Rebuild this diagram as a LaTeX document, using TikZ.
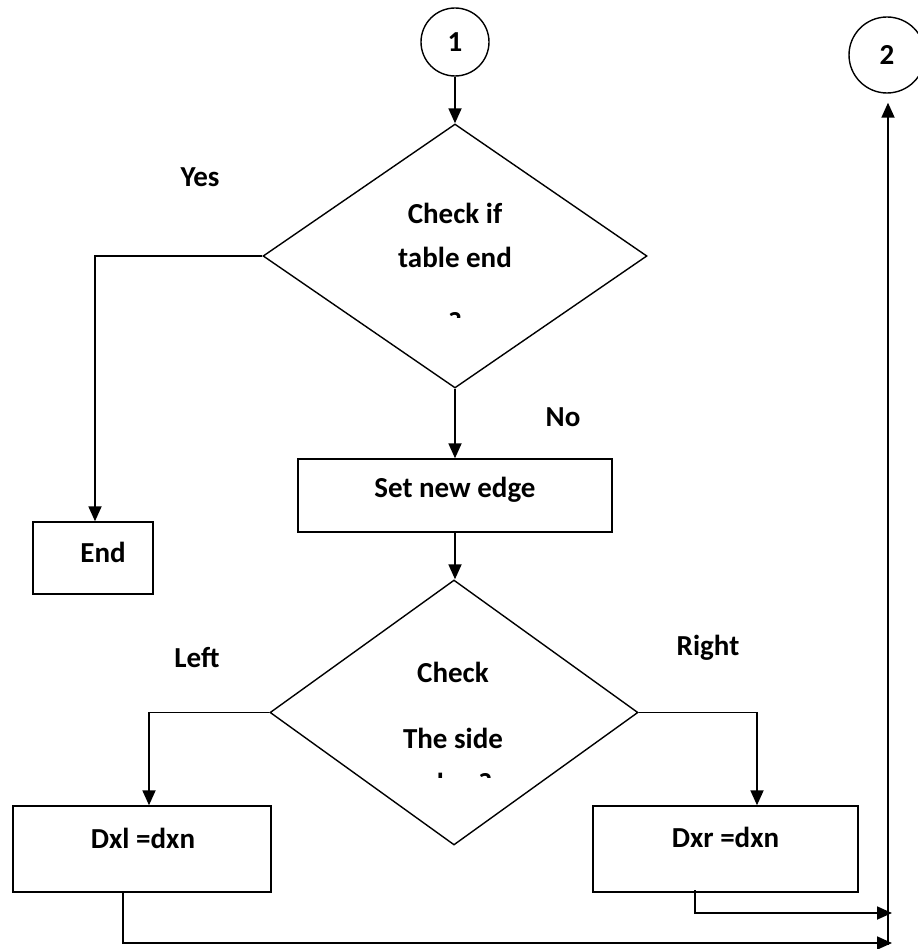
\documentclass[tikz,border=0pt]{standalone}
\usepackage{fontspec}
\setmainfont{Carlito}
\usetikzlibrary{shapes.geometric,arrows.meta}
\begin{document}
\begin{tikzpicture}[x=1pt,y=-1pt,
  every node/.style={font=\fontsize{29}{35}\selectfont\bfseries},
  flowline/.style={line width=1.8pt},
  arr/.style={flowline,-{Triangle[length=15pt,width=13pt]}},
  shapeline/.style={draw,line width=1.4pt,inner sep=0pt},
  procbox/.style={shapeline,rectangle},
  decision/.style={shapeline,diamond},
  connector/.style={shapeline,circle},
  txt/.style={inner sep=0pt}
]
\useasboundingbox (0,0) rectangle (917,949);

% connectors (page references)
\node[connector,minimum size=68pt] (c1) at (455,42) {1};
\node[connector,minimum size=76pt] (c2) at (887,55) {2};

% first decision: end of table?
\node[decision,minimum width=384pt,minimum height=264pt] (d1) at (455,256) {};
\node[txt] (d1a) at (455,213) {Check if};
\node[txt] (d1b) at (455,257) {table end};
\begin{scope}
  \clip (380,300) rectangle (530,317);
  \node[txt,anchor=base] (d1c) at (455,332) {?};
\end{scope}

% end of processing
\node[procbox,minimum width=120pt,minimum height=72pt] (end) at (93,558) {};
\node[txt] (endt) at (103,552) {End};

% new edge
\node[procbox,minimum width=314pt,minimum height=73pt] (edge) at (455,495.5) {};
\node[txt] (edget) at (455,490) {Set new edge};

% second decision: which side?
\node[decision,minimum width=368pt,minimum height=265pt] (d2) at (454,712.5) {};
\node[txt] (d2a) at (453,672) {Check};
\node[txt] (d2b) at (453,738) {The side};
\begin{scope}
  \clip (380,765) rectangle (530,777);
  \node[txt,anchor=base] (d2c) at (453,793) {edge ?};
\end{scope}

% assignments
\node[procbox,minimum width=258pt,minimum height=86pt] (dxl) at (142,849) {};
\node[txt] (dxlt) at (143,838) {Dxl =dxn};
\node[procbox,minimum width=265pt,minimum height=86pt] (dxr) at (725.5,849) {};
\node[txt] (dxrt) at (725.5,837) {Dxr =dxn};

% branch labels
\node[txt] (yes) at (200,177) {Yes};
\node[txt] (no) at (563,417) {No};
\node[txt] (left) at (197,658) {Left};
\node[txt] (right) at (708,648) {Right};

% bend columns
\coordinate (yb) at (95,257);
\coordinate (lb) at (149,713);
\coordinate (rb) at (757,713);
\coordinate (lo) at (123,892);
\coordinate (ro) at (695,890);
\coordinate (lt) at (892,943);
\coordinate (rt) at (892,913);
\coordinate (railbot) at (888,945);

% flow lines
\draw[arr] (c1.south) -- (d1.north);
\draw[arr] (d1.west) -- (d1.west -| yb) -- (yb |- end.north);
\draw[arr] (d1.south) -- (edge.north);
\draw[arr] (edge.south) -- (edge.south |- d2.north);
\draw[arr] (d2.west) -- (d2.west -| lb) -- (lb |- dxl.north);
\draw[arr] (d2.east) -- (d2.east -| rb) -- (rb |- dxr.north);
\draw[arr] (ro) -- (ro |- rt) -- (rt);
\draw[arr] (lo) -- (lo |- lt) -- (lt);
\draw[arr,shorten >=9pt] (railbot) -- (railbot |- c2.south);
\end{tikzpicture}
\end{document}
